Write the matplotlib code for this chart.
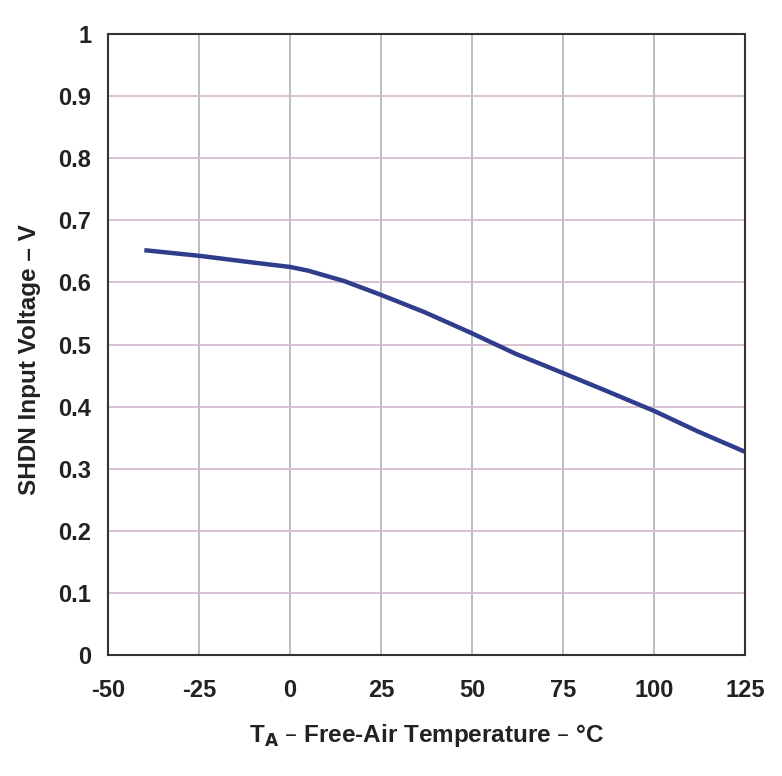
import numpy as np
import matplotlib.pyplot as plt

plt.rcParams['font.family'] = ['Liberation Sans', 'DejaVu Sans']
plt.rcParams['axes.unicode_minus'] = False

temp = [-40, -25, -10, 0, 5, 15, 25, 37, 50, 62, 75, 87, 100, 112, 125]
vshdn = [0.652, 0.643, 0.632, 0.625, 0.619, 0.602, 0.580, 0.552, 0.518, 0.485, 0.454, 0.425, 0.393, 0.360, 0.327]

xticks = [-50, -25, 0, 25, 50, 75, 100, 125]
yticks = np.round(np.arange(0, 1.01, 0.1), 1)
ylabels = ['0', '0.1', '0.2', '0.3', '0.4', '0.5', '0.6', '0.7', '0.8', '0.9', '1']

fig = plt.figure(figsize=(7.82, 7.76), dpi=100)
ax = fig.add_axes([0.138, 0.156, 0.815, 0.80])

ax.plot(temp, vshdn, color='#2f3d8c', lw=3.2, solid_capstyle='butt')

ax.set_xlim(-50, 125)
ax.set_ylim(0, 1)
ax.set_xticks(xticks)
ax.set_yticks(yticks)
ax.set_yticklabels(ylabels)

ax.xaxis.grid(True, color='#b4b8bc', lw=1.3)
ax.yaxis.grid(True, color='#d4bcd0', lw=1.3)
ax.set_axisbelow(True)

ax.tick_params(length=0, labelsize=17)
ax.tick_params(axis='x', pad=17)
ax.tick_params(axis='y', pad=12)
for lab in ax.get_xticklabels() + ax.get_yticklabels():
    lab.set_fontweight('bold')
    lab.set_color('#222222')

for s in ax.spines.values():
    s.set_linewidth(1.5)
    s.set_color('#333333')

ax.set_ylabel('SHDN Input Voltage – V', fontsize=17.5, fontweight='bold', color='#222222')
ax.yaxis.set_label_coords(-0.105, 0.475)
ax.set_xlabel(r'T$_\mathbf{A}$ – Free-Air Temperature – °C', fontsize=17.5, fontweight='bold', labelpad=15, color='#222222')

fig.savefig('out.png', dpi=100)
